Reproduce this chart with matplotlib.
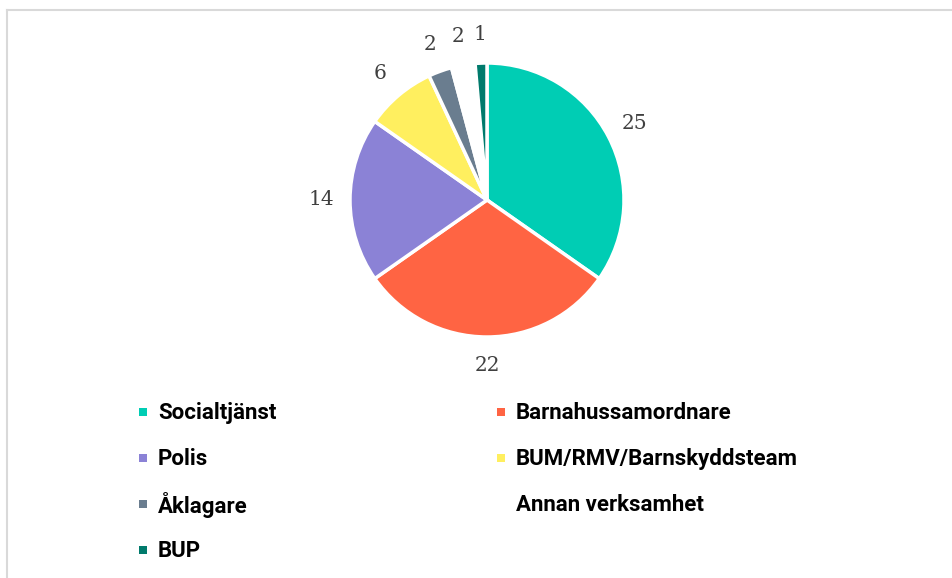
import matplotlib.pyplot as plt
from matplotlib.patches import Rectangle

# Antal ärenden per verksamhet
kategorier = ["Socialtjänst", "Barnahussamordnare", "Polis", "BUM/RMV/Barnskyddsteam",
              "Åklagare", "Annan verksamhet", "BUP"]
antal = [25, 22, 14, 6, 2, 2, 1]
farger = ["#00CDB4", "#FF6443", "#8B82D6", "#FFEF5F", "#6A7D8F", "#FFFFFF", "#007A6C"]

W, H = 953, 578
fig = plt.figure(figsize=(W / 100, H / 100), dpi=100)

# ram runt diagrammet
fig.add_artist(plt.Line2D([7 / W, 7 / W], [0, 1 - 10 / H], color="#D9D9D9", lw=1.5))
fig.add_artist(plt.Line2D([7 / W, 1], [1 - 10 / H, 1 - 10 / H], color="#D9D9D9", lw=1.5))

cx, cy, r = 487, 200, 137
ax = fig.add_axes([(cx - r) / W, 1 - (cy + r) / H, 2 * r / W, 2 * r / H])
wedges, texts = ax.pie(antal, colors=farger, startangle=90, counterclock=False,
                       labels=[str(v) for v in antal], labeldistance=1.21,
                       wedgeprops=dict(edgecolor="white", linewidth=2.5),
                       textprops=dict(fontsize=14.5, color="#404040", family="DejaVu Serif"))
for t in texts:
    t.set_ha("center")
    t.set_va("center")
ax.set_xlim(-1, 1)
ax.set_ylim(-1, 1)
ax.set_aspect("equal")

# förklaring i två kolumner
kol_x = [143, 501]
rad_y = [413, 459, 505, 551]
for i, (namn, farg) in enumerate(zip(kategorier, farger)):
    kx = kol_x[i % 2]
    ky = rad_y[i // 2]
    fig.add_artist(Rectangle(((kx - 4) / W, 1 - (ky + 3) / H), 8 / W, 8 / H,
                             transform=fig.transFigure, facecolor=farg, edgecolor="none"))
    fig.text((kx + 15) / W, 1 - ky / H, namn, fontsize=16, fontweight="bold",
             family="Roboto", color="black", va="center", ha="left")

fig.savefig("out.png", dpi=100)
